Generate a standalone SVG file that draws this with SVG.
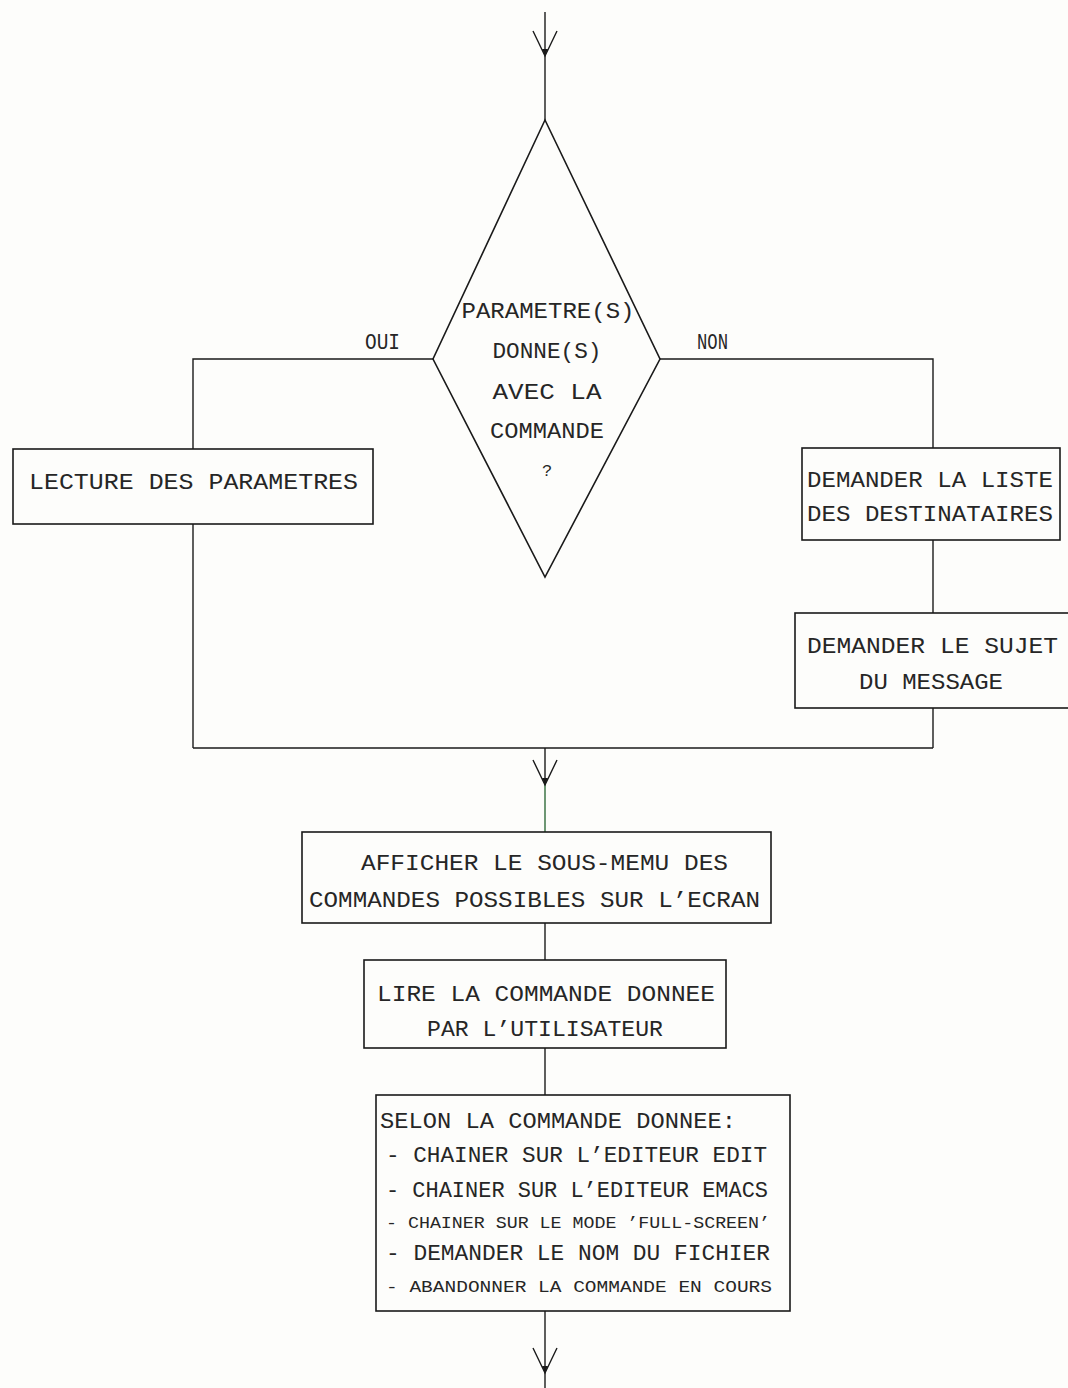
<svg xmlns="http://www.w3.org/2000/svg" width="1068" height="1388" viewBox="0 0 1068 1388">
<style>
.bg{fill:#fdfdfb}
.ln{stroke:#1a1a1a;stroke-width:1.4;fill:none}
.gr{stroke:#2f6b3a;stroke-width:1.4;fill:none}
.bx{stroke:#1a1a1a;stroke-width:1.6;fill:none}
.t{font-family:"Liberation Mono","DejaVu Sans Mono",monospace;font-size:22px;fill:#262626}
.s{font-size:17px}
.c{text-anchor:middle}
</style>
<defs>
<g id="ah">
<path d="M-12,-25 L0,0 L12,-25" class="ln"/>
<path d="M-3,-7 L0,0 L3,-7 Z" fill="#1a1a1a"/>
</g>
</defs>
<rect class="bg" x="0" y="0" width="1068" height="1388"/>
<g id="connectors">
<line class="ln" x1="545" y1="12" x2="545" y2="120"/>
<use href="#ah" x="545" y="56"/>
<polyline class="ln" points="433,359 193,359 193,449"/>
<polyline class="ln" points="660,359 933,359 933,448"/>
<line class="ln" x1="193" y1="524" x2="193" y2="748"/>
<line class="ln" x1="933" y1="540" x2="933" y2="613"/>
<line class="ln" x1="933" y1="708" x2="933" y2="748"/>
<line class="ln" x1="193" y1="748" x2="933" y2="748"/>
<line class="ln" x1="545" y1="748" x2="545" y2="785"/>
<line class="gr" x1="545" y1="785" x2="545" y2="832"/>
<use href="#ah" x="545" y="785"/>
<line class="ln" x1="545" y1="923" x2="545" y2="960"/>
<line class="ln" x1="545" y1="1048" x2="545" y2="1095"/>
<line class="ln" x1="545" y1="1311" x2="545" y2="1388"/>
<use href="#ah" x="545" y="1373"/>
<text class="t" x="365" y="349" textLength="35" lengthAdjust="spacingAndGlyphs">OUI</text>
<text class="t" x="697" y="349" textLength="31" lengthAdjust="spacingAndGlyphs">NON</text>
</g>
<g id="decision">
<polygon class="bx" points="545,120 660,359 545,577 433,359"/>
<text class="t c" x="548" y="318" textLength="173" lengthAdjust="spacingAndGlyphs">PARAMETRE(S)</text>
<text class="t c" x="547" y="358" textLength="109" lengthAdjust="spacingAndGlyphs">DONNE(S)</text>
<text class="t c" x="547" y="399" textLength="109" lengthAdjust="spacingAndGlyphs">AVEC LA</text>
<text class="t c" x="547" y="438" textLength="114" lengthAdjust="spacingAndGlyphs">COMMANDE</text>
<text class="t c s" x="547" y="476">?</text>
</g>
<g id="lecture">
<rect class="bx" x="13" y="449" width="360" height="75"/>
<text class="t" x="29" y="489" textLength="329" lengthAdjust="spacingAndGlyphs">LECTURE DES PARAMETRES</text>
</g>
<g id="liste">
<rect class="bx" x="802" y="448" width="258" height="92"/>
<text class="t" x="807" y="487" textLength="246" lengthAdjust="spacingAndGlyphs">DEMANDER LA LISTE</text>
<text class="t" x="807" y="521" textLength="246" lengthAdjust="spacingAndGlyphs">DES DESTINATAIRES</text>
</g>
<g id="sujet">
<rect class="bx" x="795" y="613" width="290" height="95"/>
<text class="t" x="807" y="653" textLength="251" lengthAdjust="spacingAndGlyphs">DEMANDER LE SUJET</text>
<text class="t" x="859" y="689" textLength="144" lengthAdjust="spacingAndGlyphs">DU MESSAGE</text>
</g>
<g id="afficher">
<rect class="bx" x="302" y="832" width="469" height="91"/>
<text class="t" x="361" y="870" textLength="367" lengthAdjust="spacingAndGlyphs">AFFICHER LE SOUS-MEMU DES</text>
<text class="t" x="309" y="907" textLength="451" lengthAdjust="spacingAndGlyphs">COMMANDES POSSIBLES SUR L’ECRAN</text>
</g>
<g id="lire">
<rect class="bx" x="364" y="960" width="362" height="88"/>
<text class="t" x="377" y="1001" textLength="338" lengthAdjust="spacingAndGlyphs">LIRE LA COMMANDE DONNEE</text>
<text class="t" x="427" y="1036" textLength="236" lengthAdjust="spacingAndGlyphs">PAR L’UTILISATEUR</text>
</g>
<g id="selon">
<rect class="bx" x="376" y="1095" width="414" height="216"/>
<text class="t" x="380" y="1128" textLength="356" lengthAdjust="spacingAndGlyphs">SELON LA COMMANDE DONNEE:</text>
<text class="t" x="386" y="1162" textLength="381" lengthAdjust="spacingAndGlyphs">- CHAINER SUR L’EDITEUR EDIT</text>
<text class="t" x="386" y="1197" textLength="382" lengthAdjust="spacingAndGlyphs">- CHAINER SUR L’EDITEUR EMACS</text>
<text class="t s" x="386" y="1228" textLength="384" lengthAdjust="spacingAndGlyphs">- CHAINER SUR LE MODE ’FULL-SCREEN’</text>
<text class="t" x="386" y="1260" textLength="384" lengthAdjust="spacingAndGlyphs">- DEMANDER LE NOM DU FICHIER</text>
<text class="t s" x="386" y="1292" textLength="386" lengthAdjust="spacingAndGlyphs">- ABANDONNER LA COMMANDE EN COURS</text>
</g>
</svg>
